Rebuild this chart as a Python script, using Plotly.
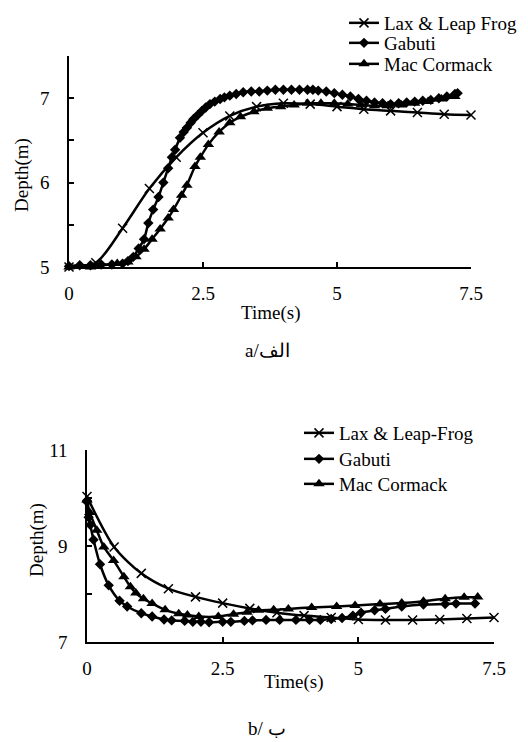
import plotly.graph_objects as go

# ---------------- data: panel a ----------------
a_lax_t = [0, 0.5, 1.0, 1.5, 2.0, 2.5, 3.0, 3.5, 4.0, 4.5, 5.0, 5.5, 6.0, 6.5, 7.0, 7.5]
a_lax_d = [5.0, 5.05, 5.46, 5.93, 6.3, 6.59, 6.79, 6.9, 6.94, 6.93, 6.9, 6.87, 6.85, 6.83, 6.81, 6.8]

a_gab_t = [0.0, 0.2, 0.4, 0.6, 0.8, 1.0, 1.1, 1.2, 1.3, 1.4, 1.48, 1.57, 1.67, 1.76, 1.85, 1.92,
           1.98, 2.07, 2.14, 2.2, 2.27, 2.32, 2.4, 2.48, 2.55, 2.63, 2.72, 2.82, 2.9, 3.0, 3.12,
           3.25, 3.4, 3.55, 3.7, 3.85, 4.0, 4.15, 4.3, 4.45, 4.55, 4.65, 4.8, 4.95, 5.1, 5.25,
           5.4, 5.55, 5.7, 5.85, 6.0, 6.15, 6.3, 6.45, 6.6, 6.75, 6.9, 7.05, 7.2, 7.25]
a_gab_d = [5.01, 5.02, 5.02, 5.03, 5.03, 5.04, 5.07, 5.12, 5.22, 5.33, 5.52, 5.68, 5.83, 6.0, 6.17, 6.3,
           6.39, 6.53, 6.6, 6.65, 6.71, 6.75, 6.8, 6.85, 6.89, 6.93, 6.96, 6.99, 7.01, 7.03, 7.05,
           7.07, 7.08, 7.08, 7.09, 7.1, 7.1, 7.1, 7.1, 7.1, 7.1, 7.09, 7.08, 7.06, 7.04, 7.02,
           6.99, 6.97, 6.95, 6.94, 6.93, 6.94, 6.95, 6.96, 6.97, 6.98, 7.0, 7.02, 7.05, 7.06]

a_mac_t = [0.0, 0.4, 0.5, 0.9, 1.1, 1.25, 1.4, 1.55, 1.7, 1.85, 1.95, 2.1, 2.2, 2.35, 2.45, 2.6,
           2.8, 3.0, 3.2, 3.45, 3.7, 3.95, 4.2, 4.45, 4.7, 4.95, 5.2, 5.45, 5.7, 5.95, 6.2, 6.45,
           6.7, 6.95, 7.2]
a_mac_d = [5.0, 5.0, 5.01, 5.04, 5.06, 5.12, 5.21, 5.33, 5.45, 5.58, 5.68, 5.85, 5.97, 6.19, 6.3, 6.45,
           6.6, 6.71, 6.78, 6.84, 6.88, 6.9, 6.92, 6.94, 6.94, 6.94, 6.93, 6.92, 6.91, 6.91, 6.92, 6.94,
           6.96, 6.99, 7.02]

# ---------------- data: panel b ----------------
b_lax_t = [0, 0.5, 1.0, 1.5, 2.0, 2.5, 3.0, 3.5, 4.0, 4.5, 5.0, 5.5, 6.0, 6.5, 7.0, 7.5]
b_lax_d = [10.03, 8.98, 8.43, 8.11, 7.94, 7.81, 7.7, 7.61, 7.55, 7.51, 7.47, 7.46, 7.46, 7.47, 7.49, 7.51]

b_gab_t = [0.0, 0.03, 0.06, 0.12, 0.24, 0.4, 0.6, 0.74, 1.0, 1.2, 1.42, 1.56, 1.8, 1.95, 2.1, 2.25,
           2.5, 2.65, 2.9, 3.05, 3.3, 3.55, 3.85, 4.1, 4.3, 4.5, 4.7, 4.9, 5.05, 5.3, 5.5, 5.8,
           6.2, 6.6, 6.8, 7.15]
b_gab_d = [9.92, 9.6, 9.44, 9.13, 8.62, 8.18, 7.86, 7.74, 7.6, 7.53, 7.47, 7.45, 7.44, 7.42, 7.42, 7.41,
           7.42, 7.42, 7.44, 7.45, 7.46, 7.46, 7.46, 7.46, 7.46, 7.48, 7.5, 7.55, 7.61, 7.66, 7.69, 7.74,
           7.78, 7.79, 7.8, 7.8]

b_mac_t = [0.0, 0.05, 0.18, 0.31, 0.49, 0.68, 0.8, 0.9, 1.04, 1.2, 1.44, 1.69, 1.85, 2.06, 2.42, 2.7,
           2.95, 3.16, 3.44, 3.71, 4.14, 4.6, 4.94, 5.4, 5.8, 6.2, 6.6, 6.95, 7.2]
b_mac_d = [9.96, 9.7, 9.33, 8.98, 8.7, 8.36, 8.15, 8.02, 7.9, 7.8, 7.67, 7.59, 7.56, 7.53, 7.53, 7.58,
           7.62, 7.66, 7.67, 7.69, 7.72, 7.74, 7.76, 7.79, 7.81, 7.85, 7.9, 7.93, 7.94]

names_a = ["Lax & Leap Frog", "Gabuti", "Mac Cormack"]
names_b = ["Lax & Leap-Frog", "Gabuti", "Mac Cormack"]

FONT = '"Liberation Serif", "Times New Roman", serif'
FS = 19
W, H = 528, 742

fig = go.Figure()

symbols = [dict(symbol="x-thin", size=9, line=dict(width=1.5, color="black"), color="black"),
           dict(symbol="diamond", size=8, color="black", line=dict(width=0)),
           dict(symbol="triangle-up", size=10, color="black", line=dict(width=0))]

series_a = [(a_lax_t, a_lax_d), (a_gab_t, a_gab_d), (a_mac_t, a_mac_d)]
series_b = [(b_lax_t, b_lax_d), (b_gab_t, b_gab_d), (b_mac_t, b_mac_d)]

for i, (t, d) in enumerate(series_a):
    fig.add_trace(go.Scatter(x=t, y=d, name=names_a[i], mode="lines+markers",
                             line=dict(color="black", width=2.5, shape="spline", smoothing=0.8),
                             marker=symbols[i], cliponaxis=False,
                             xaxis="x", yaxis="y", legend="legend" if i == 0 else f"legend{i+1}"))
for i, (t, d) in enumerate(series_b):
    fig.add_trace(go.Scatter(x=t, y=d, name=names_b[i], mode="lines+markers",
                             line=dict(color="black", width=2.5, shape="spline", smoothing=0.8),
                             marker=symbols[i], cliponaxis=False,
                             xaxis="x2", yaxis="y2", legend=f"legend{i+4}"))

def px2x(p):
    return p / W

def px2y(p):
    return 1 - p / H

axis_common = dict(showgrid=False, zeroline=False, showline=True, linecolor="black", linewidth=1.5,
                   ticks="inside", ticklen=5, tickwidth=1.5, tickcolor="black",
                   tickfont=dict(family=FONT, size=FS, color="black"))

layout = dict(
    width=W, height=H, margin=dict(l=0, r=0, t=0, b=0, autoexpand=False),
    paper_bgcolor="white", plot_bgcolor="white",
    showlegend=True,
    xaxis=dict(domain=[px2x(69), px2x(471)], range=[0, 7.5], dtick=2.5, tick0=0,
               anchor="y", ticklabelstandoff=8, **axis_common),
    yaxis=dict(domain=[px2y(267), px2y(56)], range=[5, 7.5], tickvals=[5, 6, 7],
               minor=dict(dtick=0.5, ticks="inside", ticklen=5, tickwidth=1.5, tickcolor="black"),
               anchor="x", ticklabelstandoff=14, **axis_common),
    xaxis2=dict(domain=[px2x(87), px2x(494)], range=[0, 7.5], dtick=2.5, tick0=0,
                anchor="y2", ticklabelstandoff=8, **axis_common),
    yaxis2=dict(domain=[px2y(642), px2y(450)], range=[7, 11], tickvals=[7, 9, 11],
                minor=dict(dtick=1, ticks="inside", ticklen=5, tickwidth=1.5, tickcolor="black"),
                anchor="x2", ticklabelstandoff=14, **axis_common),
)

leg_font = dict(family=FONT, size=FS, color="black")
leg_rows = [(344, 23), (344, 43), (344, 64), (299, 433), (299, 459), (299, 484)]
for k, (lx, ly) in enumerate(leg_rows):
    key = "legend" if k == 0 else f"legend{k+1}"
    layout[key] = dict(x=px2x(lx), y=px2y(ly), xanchor="left", yanchor="middle",
                       font=leg_font, bgcolor="rgba(0,0,0,0)", borderwidth=0)

fig.update_layout(**layout)

ann_font = dict(family=FONT, size=FS, color="black")
annotations = [
    dict(text="Time(s)", x=px2x(270), y=px2y(313)),
    dict(text="Depth(m)", x=px2x(22), y=px2y(175), textangle=-90),
    dict(text="a/الف", x=px2x(267), y=px2y(350)),
    dict(text="Time(s)", x=px2x(293), y=px2y(682)),
    dict(text="Depth(m)", x=px2x(37), y=px2y(540), textangle=-90),
    dict(text="b/ ب", x=px2x(267), y=px2y(728)),
]
for a in annotations:
    fig.add_annotation(xref="paper", yref="paper", showarrow=False, font=ann_font,
                       xanchor="center", yanchor="middle", **a)

fig.write_html("out.html", config={"displayModeBar": False},
               post_script="document.body.style.margin='0px';document.body.style.overflow='hidden';")
